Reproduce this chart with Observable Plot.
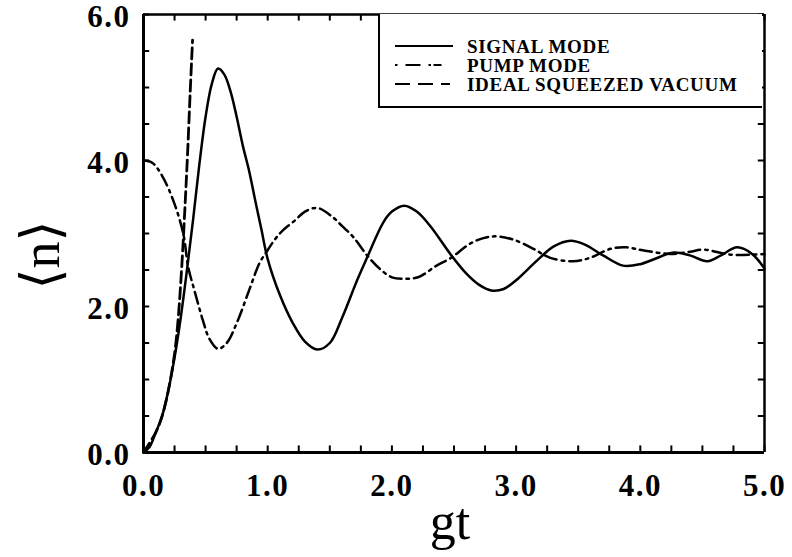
<!DOCTYPE html>
<html>
<head>
<meta charset="utf-8">
<script src="https://cdn.jsdelivr.net/npm/d3@7"></script>
<script src="https://cdn.jsdelivr.net/npm/@observablehq/plot@0.6"></script>
<style>
  html, body { margin: 0; padding: 0; background: #fff; }
  #wrap { position: relative; width: 792px; height: 557px; }
  #wrap svg [aria-label$="tick label"] text { letter-spacing: 1.5px; }
  #legend { position: absolute; left: 378px; top: 14px; width: 384px; height: 94px;
    box-sizing: border-box; border-left: 2px solid #000; border-bottom: 2px solid #000; background: #fff;
    font-family: "Liberation Serif", "Times New Roman", serif; font-weight: bold; font-size: 19px; letter-spacing: 0.7px; color: #000; }
  .row { position: absolute; left: 0; height: 20px; }
  .row svg { position: absolute; left: 15px; top: 0; }
  .row span { position: absolute; left: 87px; top: 0; line-height: 20px; white-space: nowrap; }
  #ylabel { position: absolute; left: 41px; top: 255px; transform: translate(-50%, -50%) rotate(-90deg);
    font-family: "Liberation Serif", "DejaVu Serif", serif; font-size: 54px; line-height: 1; white-space: nowrap; color: #000; }
</style>
</head>
<body>
<div id="wrap"></div>
<script>
// ---- data ----
const signalT = [0,0.05,0.1,0.15,0.2,0.25,0.3,0.35,0.4,0.45,0.5,0.55,0.6,0.65,0.7,0.75,0.8,0.85,0.9,0.95,1.0,1.1,1.2,1.3,1.4,1.5,1.6,1.72,1.8,1.93,2.0,2.1,2.2,2.31,2.47,2.6,2.7,2.8,2.9,3.0,3.1,3.2,3.3,3.44,3.55,3.7,3.86,4.0,4.1,4.27,4.4,4.54,4.65,4.78,4.9,5.0];
const signalN = [0,0.08,0.28,0.5,0.85,1.3,1.85,2.5,3.2,3.95,4.6,5.05,5.26,5.18,4.95,4.6,4.2,3.86,3.45,3.05,2.65,2.15,1.78,1.52,1.41,1.5,1.85,2.36,2.67,3.15,3.3,3.38,3.3,3.1,2.72,2.45,2.3,2.22,2.24,2.36,2.52,2.68,2.82,2.9,2.85,2.7,2.56,2.58,2.64,2.74,2.7,2.62,2.7,2.81,2.72,2.52];
const pumpT = [0,0.07,0.15,0.24,0.32,0.36,0.41,0.48,0.53,0.6,0.67,0.75,0.85,0.935,0.98,1.05,1.12,1.22,1.3,1.4,1.52,1.6,1.69,1.8,1.9,2.0,2.09,2.21,2.36,2.47,2.65,2.81,2.97,3.14,3.27,3.46,3.6,3.76,3.89,4.02,4.24,4.4,4.51,4.73,5.0];
const pumpN = [4.0,3.97,3.79,3.45,3.0,2.54,2.22,1.8,1.56,1.42,1.5,1.77,2.22,2.6,2.72,2.9,3.04,3.18,3.3,3.35,3.23,3.1,2.95,2.7,2.52,2.4,2.38,2.40,2.56,2.66,2.88,2.96,2.92,2.79,2.67,2.62,2.67,2.79,2.81,2.77,2.72,2.75,2.78,2.71,2.72];
const vacuumT = [0,0.1,0.15,0.2,0.25,0.28,0.31,0.335,0.355,0.375,0.395];
const vacuumN = [0,0.28,0.5,0.85,1.35,1.85,2.6,3.4,4.1,4.9,5.65];
const seriesNames = ["SIGNAL MODE", "PUMP MODE", "IDEAL SQUEEZED VACUUM"];
const xTickValues = [0,1,2,3,4,5];
const yTickValues = [0,2,4,6];
const xMinorTicks = d3.range(0, 5.001, 0.25);
const yMinorTicks = d3.range(0, 6.001, 0.5);
const xLabel = "gt";
const yLabel = "\u27E8n\u27E9";

const toRows = (T, N) => T.map((t, i) => ({t, n: N[i]}));
const signal = toRows(signalT, signalN);
const pump = toRows(pumpT, pumpN);
const vacuum = toRows(vacuumT, vacuumN);

const serif = "Liberation Serif, Times New Roman, serif";
const xTickLen = 0.09; // inward tick length in y units (~6-7px)
const yTickLen = 0.05; // inward tick length in x units (~6px)

const chart = Plot.plot({
  width: 792,
  height: 557,
  marginLeft: 143,
  marginRight: 28,
  marginTop: 14,
  marginBottom: 105,
  style: {background: "#fff", color: "#000", fontFamily: serif},
  x: {domain: [0, 5]},
  y: {domain: [0, 6]},
  marks: [
    // minor inward ticks on all four sides
    Plot.ruleX(xMinorTicks, {x: d => d, y1: 0, y2: xTickLen, stroke: "#000", strokeWidth: 2}),
    Plot.ruleX(xMinorTicks, {x: d => d, y1: 6 - xTickLen, y2: 6, stroke: "#000", strokeWidth: 2}),
    Plot.ruleY(yMinorTicks, {y: d => d, x1: 0, x2: yTickLen, stroke: "#000", strokeWidth: 2}),
    Plot.ruleY(yMinorTicks, {y: d => d, x1: 5 - yTickLen, x2: 5, stroke: "#000", strokeWidth: 2}),
    // labelled ticks
    Plot.axisX(xTickValues, {anchor: "bottom", tickSize: 0, tickPadding: 21, tickFormat: d3.format(".1f"),
      fontSize: 31, fontWeight: "bold", label: null}),
    Plot.axisY(yTickValues, {anchor: "left", tickSize: 0, tickPadding: 13, tickFormat: d3.format(".1f"),
      fontSize: 31, fontWeight: "bold", label: null, dy: 3}),
    // frame
    Plot.ruleX([0], {strokeWidth: 3}),
    Plot.ruleY([0], {strokeWidth: 3}),
    Plot.ruleX([5], {strokeWidth: 2.5}),
    Plot.ruleY([6], {strokeWidth: 2.5}),
    // curves
    Plot.line(signal, {x: "t", y: "n", stroke: "#000", strokeWidth: 2.5, curve: "catmull-rom"}),
    Plot.line(pump, {x: "t", y: "n", stroke: "#000", strokeWidth: 2.5, curve: "catmull-rom",
      strokeDasharray: "12,5,2.5,5"}),
    Plot.line(vacuum, {x: "t", y: "n", stroke: "#000", strokeWidth: 2.8, curve: "catmull-rom",
      strokeDasharray: "11,5"}),
    // x axis title
    Plot.text([xLabel], {frameAnchor: "bottom", text: d => d, dx: -4, dy: 70, fontSize: 52, fontFamily: serif, lineAnchor: "middle"})
  ]
});

const wrap = document.getElementById("wrap");
wrap.appendChild(chart);

// y axis title
const yl = document.createElement("div");
yl.id = "ylabel";
yl.textContent = yLabel;
wrap.appendChild(yl);

// legend (inside the plot area, top right)
const legend = document.createElement("div");
legend.id = "legend";
const dashes = ["none", "2.5,8,15,8,2.5", "15,8"];
const rowTops = [23, 42, 61];
seriesNames.forEach((name, i) => {
  const row = document.createElement("div");
  row.className = "row";
  row.style.top = rowTops[i] + "px";
  row.style.width = "380px";
  const sw = i === 0 ? 58 : 55;
  row.innerHTML = `<svg width="60" height="20"><line x1="0" x2="${sw}" y1="9" y2="9" stroke="#000" stroke-width="2" stroke-dasharray="${dashes[i]}"/></svg><span>${name}</span>`;
  legend.appendChild(row);
});
wrap.appendChild(legend);
</script>
</body>
</html>
